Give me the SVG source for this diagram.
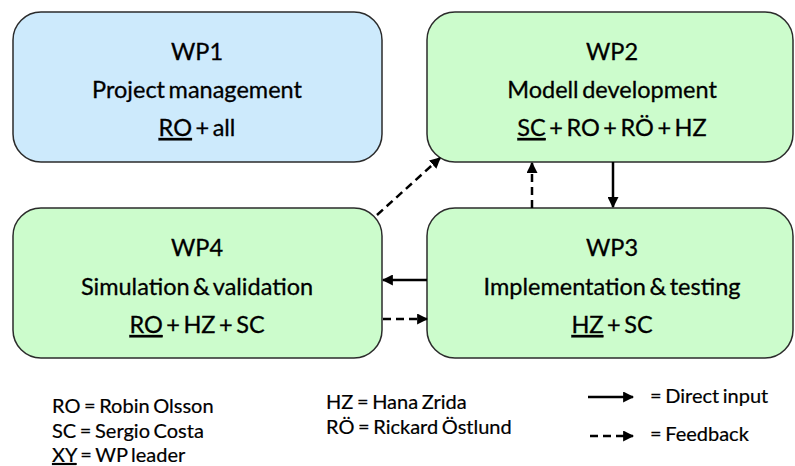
<svg xmlns="http://www.w3.org/2000/svg" width="795" height="466" viewBox="0 0 795 466">
<style>
.box{stroke:#2b2b2b;stroke-width:1.5}
.blue{fill:#cdeafc}
.green{fill:#ccfccc}
.t{font-family:Lato,"Noto Sans","Liberation Sans",sans-serif;fill:#000;stroke:#000;stroke-width:0.3;text-anchor:middle;font-size:23.5px;word-spacing:-2.5px}
.l{font-family:Lato,"Noto Sans","Liberation Sans",sans-serif;fill:#000;stroke:#000;stroke-width:0.2;font-size:20px;word-spacing:-1.5px}
.u{text-decoration:underline}
.c{stroke:#000;stroke-width:2.5;fill:none}
.d{stroke-dasharray:8 5}
</style>
<defs>
<marker id="ah" viewBox="0 0 10 10" refX="9" refY="5" markerWidth="4.4" markerHeight="4.4" orient="auto" markerUnits="strokeWidth">
<path d="M0,0 L10,5 L0,10 z" fill="#000"/>
</marker>
</defs>
<rect width="795" height="466" fill="#fff"/>
<g id="wp1">
<rect class="box blue" x="13" y="12" width="369" height="150" rx="28"/>
<text class="t" x="197" y="60">WP1</text>
<text class="t" x="197" y="98">Project management</text>
<text class="t" x="197" y="136"><tspan class="u">RO</tspan> + all</text>
</g>
<g id="wp2">
<rect class="box green" x="427" y="12" width="366" height="150" rx="28"/>
<text class="t" x="612" y="60">WP2</text>
<text class="t" x="612" y="98">Modell development</text>
<text class="t" x="612" y="136"><tspan class="u">SC</tspan> + RO + RÖ + HZ</text>
</g>
<g id="wp4">
<rect class="box green" x="13" y="208" width="369" height="150" rx="28"/>
<text class="t" x="197" y="256">WP4</text>
<text class="t" x="197" y="295">Simulation &amp; validation</text>
<text class="t" x="197" y="333"><tspan class="u">RO</tspan> + HZ + SC</text>
</g>
<g id="wp3">
<rect class="box green" x="427" y="208" width="366" height="150" rx="28"/>
<text class="t" x="612" y="256">WP3</text>
<text class="t" x="612" y="295">Implementation &amp; testing</text>
<text class="t" x="612" y="333"><tspan class="u">HZ</tspan> + SC</text>
</g>
<g id="connectors">
<line class="c d" x1="377" y1="215" x2="440" y2="158" marker-end="url(#ah)"/>
<line class="c d" x1="532" y1="208" x2="532" y2="163" marker-end="url(#ah)"/>
<line class="c" x1="613" y1="162" x2="613" y2="207" marker-end="url(#ah)"/>
<line class="c" x1="427" y1="280" x2="383" y2="280" marker-end="url(#ah)"/>
<line class="c d" x1="383" y1="319" x2="427" y2="319" marker-end="url(#ah)"/>
</g>
<g id="legend">
<text class="l" x="52" y="413">RO = Robin Olsson</text>
<text class="l" x="52" y="438">SC = Sergio Costa</text>
<text class="l" x="52" y="462"><tspan class="u">XY</tspan> = WP leader</text>
<text class="l" x="326" y="409">HZ = Hana Zrida</text>
<text class="l" x="326" y="434">RÖ = Rickard Östlund</text>
<line class="c" x1="588" y1="397" x2="633" y2="397" marker-end="url(#ah)"/>
<line class="c d" x1="590" y1="436" x2="633" y2="436" marker-end="url(#ah)"/>
<text class="l" x="650" y="403">= Direct input</text>
<text class="l" x="650" y="441">= Feedback</text>
</g>
</svg>
